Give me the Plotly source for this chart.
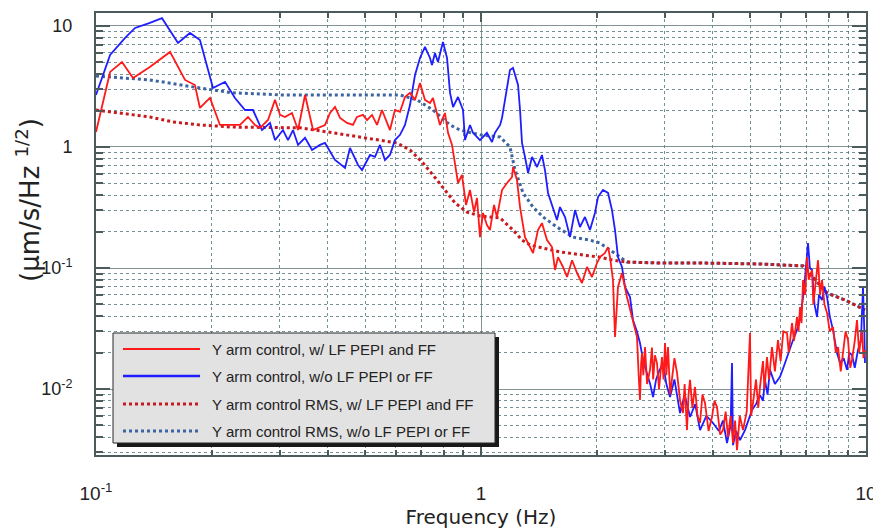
import plotly.graph_objects as go

# ---------------- data ----------------
blue_f = [0.100, 0.1088, 0.119, 0.1263, 0.138, 0.1484, 0.1633, 0.1754, 0.1862, 0.2013,
          0.2163, 0.2296, 0.2438, 0.2557, 0.2699, 0.2831, 0.2917, 0.306, 0.3153, 0.3249,
          0.3348, 0.3491, 0.364, 0.3818, 0.3934, 0.4177, 0.4435, 0.4568, 0.4793, 0.4909,
          0.5149, 0.5305, 0.5466, 0.563, 0.5801, 0.5977, 0.6161, 0.6347, 0.654, 0.6739,
          0.6943, 0.7153, 0.7371, 0.7459, 0.7594, 0.7731, 0.7965, 0.8162, 0.8309, 0.846,
          0.8716, 0.898, 0.9088, 0.9363, 0.9533, 0.9822, 0.994, 1.036, 1.068, 1.087,
          1.121, 1.134, 1.161, 1.189, 1.211, 1.248, 1.263, 1.278, 1.301, 1.325,
          1.357, 1.398, 1.44, 1.466, 1.493, 1.538, 1.575, 1.604, 1.653, 1.703,
          1.755, 1.807, 1.862, 1.919, 1.977, 2.013, 2.074, 2.138, 2.189, 2.229,
          2.269, 2.324, 2.366, 2.438, 2.482, 2.54, 2.588, 2.64, 2.699, 2.75,
          2.798, 2.85, 2.90, 2.97, 3.03, 3.097, 3.18, 3.288, 3.38, 3.491,
          3.60, 3.706, 3.85, 4.005, 4.15, 4.25, 4.355, 4.45, 4.487, 4.514,
          4.60, 4.707, 4.85, 4.95, 5.057, 5.18, 5.304, 5.40, 5.465, 5.55,
          5.631, 5.80, 5.979, 6.10, 6.235, 6.35, 6.463, 6.60, 6.74, 6.902,
          7.00, 7.069, 7.15, 7.241, 7.35, 7.461, 7.55, 7.688, 7.80, 7.922,
          8.05, 8.211, 8.40, 8.562, 8.75, 8.926, 9.05, 9.197, 9.35, 9.532,
          9.70, 9.822, 9.90, 9.94]
blue_v = [2.69, 5.76, 7.96, 9.63, 10.6, 11.6, 7.24, 8.75, 7.66, 3.07,
          3.45, 2.54, 2.02, 2.02, 1.38, 1.58, 1.14, 1.38, 1.14, 1.38,
          1.04, 1.19, 0.944, 1.04, 1.08, 0.781, 0.671, 0.981, 0.710, 0.645,
          0.859, 0.83, 1.04, 0.781, 0.859, 1.14, 1.26, 1.52, 2.22, 3.94,
          5.44, 6.71, 5.44, 4.76, 5.98, 5.04, 7.37, 5.44, 2.80, 2.14,
          2.59, 2.02, 1.14, 1.52, 1.31, 1.19, 1.14, 1.31, 1.10, 1.31,
          1.52, 1.74, 2.69, 4.33, 4.50, 3.25, 2.02, 1.08, 0.827, 0.610,
          0.827, 0.683, 0.859, 0.645, 0.417, 0.319, 0.249, 0.319, 0.264, 0.180,
          0.301, 0.218, 0.264, 0.206, 0.285, 0.386, 0.441, 0.417, 0.301, 0.206,
          0.123, 0.102, 0.0697, 0.0576, 0.0372, 0.030, 0.0240, 0.017, 0.0136, 0.011,
          0.00859, 0.012, 0.014, 0.0164, 0.011, 0.00859, 0.012, 0.00633, 0.009, 0.00587,
          0.0075, 0.00458, 0.006, 0.00524, 0.0045, 0.0055, 0.00358, 0.005, 0.0164, 0.00344,
          0.0045, 0.00379, 0.00458, 0.0055, 0.00671, 0.0075, 0.00892, 0.008, 0.0119, 0.009,
          0.0144, 0.011, 0.0126, 0.015, 0.0184, 0.022, 0.0254, 0.030, 0.0372, 0.0658,
          0.110, 0.161, 0.100, 0.0963, 0.050, 0.0394, 0.060, 0.0544, 0.070, 0.0576,
          0.040, 0.0307, 0.020, 0.0164, 0.018, 0.0144, 0.020, 0.0191, 0.015, 0.0210,
          0.025, 0.0697, 0.030, 0.0164]

red_f = [0.100, 0.1088, 0.1168, 0.1248, 0.138, 0.1557, 0.1703, 0.1807, 0.1862, 0.1977,
         0.2099, 0.2229, 0.2366, 0.2482, 0.2588, 0.2667, 0.2798, 0.2917, 0.3006, 0.3097,
         0.3229, 0.3348, 0.3491, 0.3662, 0.3818, 0.3934, 0.4054, 0.4177, 0.4304, 0.4487,
         0.465, 0.4763, 0.4937, 0.5058, 0.5211, 0.537, 0.5532, 0.5698, 0.5801, 0.5977,
         0.6161, 0.6347, 0.654, 0.6739, 0.6943, 0.7153, 0.7371, 0.7503, 0.7824, 0.806,
         0.821, 0.8409, 0.8562, 0.8716, 0.8925, 0.9142, 0.9363, 0.959, 0.9763, 0.994,
         1.012, 1.036, 1.055, 1.081, 1.100, 1.134, 1.168, 1.204, 1.211, 1.24,
         1.263, 1.301, 1.341, 1.365, 1.406, 1.44, 1.484, 1.529, 1.557, 1.585,
         1.633, 1.673, 1.724, 1.776, 1.829, 1.885, 1.942, 2.001, 2.037, 2.099,
         2.138, 2.163, 2.202, 2.229, 2.269, 2.324, 2.394, 2.467, 2.542, 2.565,
         2.588, 2.605, 2.619, 2.64, 2.667, 2.70, 2.748, 2.78, 2.80, 2.83,
         2.865, 2.90, 2.952, 2.98, 3.006, 3.03, 3.06, 3.10, 3.134, 3.18,
         3.23, 3.29, 3.347, 3.38, 3.428, 3.46, 3.491, 3.54, 3.596, 3.65,
         3.706, 3.76, 3.818, 3.90, 3.981, 4.04, 4.102, 4.18, 4.252, 4.32,
         4.381, 4.45, 4.514, 4.57, 4.623, 4.70, 4.792, 4.90, 4.997, 5.03,
         5.087, 5.18, 5.25, 5.304, 5.40, 5.45, 5.531, 5.60, 5.699, 5.80,
         5.907, 6.00, 6.10, 6.235, 6.30, 6.425, 6.50, 6.62, 6.68, 6.74,
         6.80, 6.862, 6.95, 7.027, 7.10, 7.241, 7.30, 7.372, 7.45, 7.506,
         7.60, 7.688, 7.80, 7.922, 8.05, 8.211, 8.35, 8.46, 8.60, 8.717,
         8.85, 8.98, 9.10, 9.197, 9.35, 9.475, 9.60, 9.763, 9.85, 9.94]
red_v = [1.33, 4.17, 5.04, 3.72, 4.58, 6.10, 3.58, 3.25, 2.10, 2.54,
         1.52, 1.52, 1.52, 1.77, 1.52, 1.44, 1.67, 2.45, 1.84, 1.77,
         1.91, 1.38, 2.69, 1.38, 1.46, 1.52, 1.91, 2.14, 1.74, 1.58,
         1.52, 1.77, 1.84, 1.67, 1.84, 1.52, 2.02, 1.58, 1.38, 2.02,
         1.95, 2.59, 2.80, 2.45, 3.38, 2.45, 2.31, 2.54, 1.52, 1.91,
         1.31, 1.04, 0.738, 0.504, 0.587, 0.332, 0.441, 0.290, 0.379, 0.180,
         0.285, 0.227, 0.206, 0.332, 0.264, 0.441, 0.504, 0.565, 0.683, 0.534,
         0.319, 0.180, 0.149, 0.133, 0.206, 0.235, 0.170, 0.149, 0.0963, 0.123,
         0.102, 0.0843, 0.116, 0.0909, 0.0752, 0.102, 0.0843, 0.110, 0.123, 0.133,
         0.149, 0.123, 0.0796, 0.0269, 0.0697, 0.0909, 0.0576, 0.0394, 0.0269, 0.014,
         0.00811, 0.016, 0.0198, 0.013, 0.0222, 0.011, 0.0144, 0.022, 0.012, 0.019,
         0.0164, 0.010, 0.0184, 0.012, 0.0240, 0.013, 0.0222, 0.009, 0.0119, 0.018,
         0.0136, 0.008, 0.00633, 0.011, 0.00458, 0.009, 0.0119, 0.007, 0.0104, 0.006,
         0.00524, 0.009, 0.00766, 0.0045, 0.00587, 0.008, 0.00710, 0.0042, 0.00458, 0.0065,
         0.00401, 0.006, 0.00358, 0.0055, 0.00313, 0.006, 0.00458, 0.0065, 0.0290, 0.006,
         0.00766, 0.012, 0.007, 0.0104, 0.017, 0.010, 0.0184, 0.012, 0.0222, 0.014,
         0.0254, 0.017, 0.030, 0.0290, 0.020, 0.0351, 0.025, 0.0394, 0.030, 0.0476,
         0.035, 0.0796, 0.060, 0.123, 0.080, 0.0963, 0.050, 0.0658, 0.100, 0.116,
         0.060, 0.0796, 0.050, 0.0425, 0.030, 0.0325, 0.020, 0.0222, 0.014, 0.0210,
         0.030, 0.0254, 0.015, 0.0174, 0.025, 0.0372, 0.020, 0.0307, 0.018, 0.0210]

blue_rms_f = [0.100, 0.138, 0.1862, 0.2269, 0.306, 0.6161, 0.682, 0.7503, 0.8309, 0.8821,
              0.994, 1.121, 1.189, 1.226, 1.286, 1.365, 1.449, 1.575, 1.734, 1.919,
              2.037, 2.163, 2.394, 2.917, 3.706, 5.304, 6.862, 7.922, 8.822, 9.94]
blue_rms_v = [3.86, 3.58, 3.07, 2.80, 2.69, 2.69, 2.45, 2.02, 1.52, 1.38,
              1.26, 1.21, 1.00, 0.645, 0.417, 0.319, 0.264, 0.218, 0.180, 0.170,
              0.161, 0.141, 0.112, 0.110, 0.110, 0.108, 0.104, 0.0621, 0.0544, 0.0450]

red_rms_f = [0.100, 0.138, 0.1585, 0.1862, 0.2269, 0.306, 0.3388, 0.4127, 0.5058, 0.6049,
             0.654, 0.7069, 0.7685, 0.8162, 0.8562, 0.9196, 0.994, 1.121, 1.211, 1.278,
             1.341, 1.449, 1.604, 1.84, 2.037, 2.202, 2.394, 2.917, 3.706, 5.304,
             6.862, 7.922, 8.822, 9.94]
red_rms_v = [2.02, 1.77, 1.61, 1.52, 1.46, 1.44, 1.44, 1.31, 1.19, 1.08,
             0.944, 0.738, 0.534, 0.417, 0.345, 0.290, 0.269, 0.259, 0.206, 0.170,
             0.155, 0.146, 0.136, 0.128, 0.123, 0.116, 0.112, 0.110, 0.110, 0.108,
             0.104, 0.0621, 0.0544, 0.0450]

series_names = ["Y arm control, w/ LF PEPI and FF",
                "Y arm control, w/o LF PEPI or FF",
                "Y arm control RMS, w/ LF PEPI and FF",
                "Y arm control RMS, w/o LF PEPI or FF"]

x_title = "Frequency (Hz)"
y_title = "(μm/s/Hz <sup>1/2</sup>)"
x_tick_vals = [0.1, 1, 10]
x_tick_text = ["10<sup>-1</sup>", "1", "10"]
y_tick_vals = [0.01, 0.1, 1, 10]
y_tick_text = ["10<sup>-2</sup>", "10<sup>-1</sup>", "1", "10"]

# ---------------- styling ----------------
RED = "rgb(255,25,25)"
BLUE = "rgb(30,30,255)"
RED_RMS = "rgb(200,25,30)"
BLUE_RMS = "rgb(60,100,160)"
FONT = "Liberation Sans, Arial, sans-serif"
TFONT = "DejaVu Sans, sans-serif"

fig = go.Figure()
fig.add_trace(go.Scatter(x=blue_rms_f, y=blue_rms_v, mode="lines", name=series_names[3],
                         line=dict(color=BLUE_RMS, width=3, dash="dot")))
fig.add_trace(go.Scatter(x=red_rms_f, y=red_rms_v, mode="lines", name=series_names[2],
                         line=dict(color=RED_RMS, width=3, dash="dot")))
fig.add_trace(go.Scatter(x=blue_f, y=blue_v, mode="lines", name=series_names[1],
                         line=dict(color=BLUE, width=1.8)))
fig.add_trace(go.Scatter(x=red_f, y=red_v, mode="lines", name=series_names[0],
                         line=dict(color=RED, width=1.8)))

minor_x = [0.2, 0.3, 0.4, 0.5, 0.6, 0.7, 0.8, 0.9, 2, 3, 4, 5, 6, 7, 8, 9]
minor_y = [m * d for d in (0.001, 0.01, 0.1, 1) for m in range(2, 10)]

GRID_MAJOR = "rgba(100,120,120,0.8)"
GRID_MINOR = "rgba(70,110,115,0.75)"
AXIS = "rgb(75,90,90)"

fig.update_xaxes(type="log", range=[-1, 1], tickmode="array", tickvals=x_tick_vals,
                 ticktext=x_tick_text, ticks="inside", ticklen=9, tickwidth=1.5,
                 tickcolor=AXIS, showline=True, linewidth=2, linecolor=AXIS, mirror="allticks",
                 showgrid=True, gridcolor=GRID_MAJOR, gridwidth=1.2,
                 minor=dict(tickmode="array", tickvals=minor_x, ticks="inside", ticklen=5,
                            tickcolor=AXIS, showgrid=True, gridcolor=GRID_MINOR,
                            griddash="dot", gridwidth=1),
                 tickfont=dict(family=FONT, size=19, color="#222"),
                 ticklabelstandoff=20, zeroline=False,
                 title=dict(text=x_title, font=dict(family=TFONT, size=20, color="#222"),
                            standoff=12))
fig.update_yaxes(type="log", range=[-2.545, 1.107], tickmode="array", tickvals=y_tick_vals,
                 ticktext=y_tick_text, ticks="inside", ticklen=14, tickwidth=1.5,
                 tickcolor=AXIS, showline=True, linewidth=2, linecolor=AXIS, mirror="allticks",
                 showgrid=True, gridcolor=GRID_MAJOR, gridwidth=1.2,
                 minor=dict(tickmode="array", tickvals=minor_y, ticks="inside", ticklen=7,
                            tickcolor=AXIS, showgrid=True, gridcolor=GRID_MINOR,
                            griddash="dot", gridwidth=1),
                 tickfont=dict(family=FONT, size=18, color="#222"),
                 ticklabelstandoff=18, zeroline=False)

# ---------------- layout ----------------
# The page body has an 8px margin, so the figure is 8px smaller than the window
# and the plot box is placed so that it lands on the reference's pixel box.
PAGE_OFF = 8
W, H = 881 - PAGE_OFF, 529 - PAGE_OFF
BOX_L, BOX_R, BOX_T, BOX_B = 96, 866, 13, 455      # plot box in window pixels
L, T = BOX_L - PAGE_OFF, BOX_T - PAGE_OFF
R, B = 881 - BOX_R, 529 - BOX_B
PW, PH = BOX_R - BOX_L, BOX_B - BOX_T


def px(x):
    return (x - BOX_L) / PW


def py(y):
    return (BOX_B - y) / PH


shapes = [
    dict(type="rect", xref="paper", yref="paper", layer="above",
         x0=px(117), x1=px(499), y0=py(447), y1=py(337),
         fillcolor="rgb(25,25,25)", line=dict(width=0)),
    dict(type="rect", xref="paper", yref="paper", layer="above",
         x0=px(113), x1=px(495), y0=py(443), y1=py(333),
         fillcolor="rgb(226,226,226)", line=dict(color="rgb(40,40,40)", width=1)),
]
annotations = [
    # y-axis title, placed where the reference has it (slightly above centre)
    dict(xref="paper", yref="paper", x=px(28), y=py(200), xanchor="center",
         yanchor="middle", textangle=-90, showarrow=False, text=y_title,
         font=dict(family=TFONT, size=26, color="#222")),
]
legend_rows = [(349, series_names[0], RED, "solid", 2),
               (376, series_names[1], BLUE, "solid", 2.5),
               (404, series_names[2], RED_RMS, "dot", 3),
               (431, series_names[3], BLUE_RMS, "dot", 3)]
for yy, name, col, dash, wd in legend_rows:
    shapes.append(dict(type="line", xref="paper", yref="paper", layer="above",
                       x0=px(123), x1=px(200), y0=py(yy), y1=py(yy),
                       line=dict(color=col, width=wd, dash=dash)))
    annotations.append(dict(xref="paper", yref="paper", x=px(210), y=py(yy),
                            xanchor="left", yanchor="middle", showarrow=False, text=name,
                            font=dict(family=FONT, size=15, color="#222")))

fig.update_layout(width=W, height=H, margin=dict(l=L, r=R, t=T, b=B, autoexpand=False),
                  paper_bgcolor="white", plot_bgcolor="white", showlegend=False,
                  shapes=shapes, annotations=annotations)

fig.write_html("out.html")
